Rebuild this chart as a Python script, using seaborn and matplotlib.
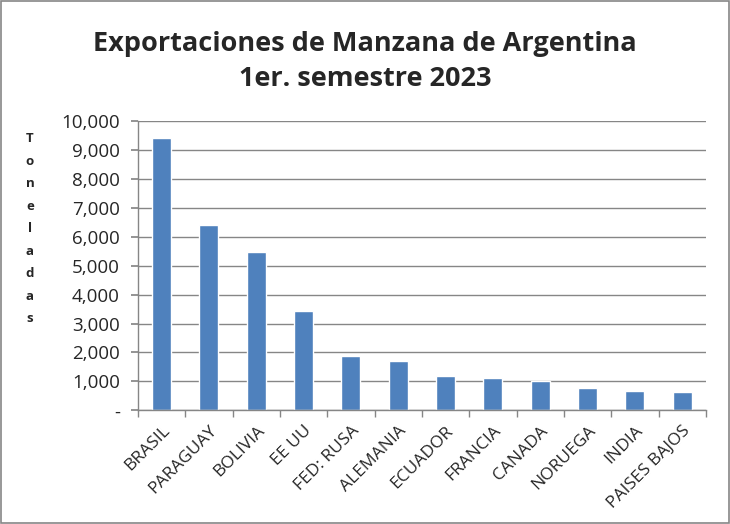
import numpy as np
import pandas as pd
import seaborn as sns
import matplotlib.pyplot as plt
from matplotlib.patches import Rectangle
from matplotlib.ticker import FuncFormatter

paises = ['BRASIL', 'PARAGUAY', 'BOLIVIA', 'EE UU', 'FED: RUSA', 'ALEMANIA',
          'ECUADOR', 'FRANCIA', 'CANADA', 'NORUEGA', 'INDIA', 'PAISES BAJOS']
toneladas = [9420, 6400, 5470, 3420, 1880, 1710, 1200, 1100, 1010, 780, 650, 620]
y_ticks = list(range(0, 10001, 1000))

titulo = 'Exportaciones de Manzana de Argentina\n1er. semestre 2023'
etiqueta_y = 'Toneladas'

df = pd.DataFrame({'pais': paises, 'toneladas': toneladas})

sns.set_theme(style='white')
plt.rcParams['font.family'] = ['Open Sans', 'DejaVu Sans']

fig, ax = plt.subplots(figsize=(7.3, 5.24), dpi=100)
fig.subplots_adjust(left=0.189, right=0.967, top=0.769, bottom=0.217)

sns.barplot(data=df, x='pais', y='toneladas', color='#4F81BD', width=0.4,
            saturation=1, ax=ax)

ax.set_ylim(0, 10000)
ax.set_xlim(-0.5, len(paises) - 0.5)
ax.set_yticks(y_ticks)
ax.yaxis.set_major_formatter(FuncFormatter(lambda v, p: '-' if v == 0 else f'{int(v):,}'))
ax.grid(axis='y', color='#868686', linewidth=1)
ax.set_axisbelow(True)

for s in ['top', 'right']:
    ax.spines[s].set_visible(False)
for s in ['left', 'bottom']:
    ax.spines[s].set_color('#868686')
    ax.spines[s].set_linewidth(1)

ax.tick_params(axis='y', length=5, color='#868686', labelsize=13.5, pad=8, left=True)
ax.set_xticks(np.arange(len(paises)))
ax.set_xticklabels(paises, rotation=45, ha='right', rotation_mode='anchor', fontsize=12.5)
ax.tick_params(axis='x', which='major', length=0, pad=9)
ax.set_xticks(np.arange(len(paises) + 1) - 0.5, minor=True)
ax.tick_params(axis='x', which='minor', length=5, color='#868686', bottom=True)

ax.set_xlabel('')
ax.set_ylabel('')
fig.text(0.041, 0.748, '\n'.join(etiqueta_y), ha='center', va='top',
         fontsize=9.5, fontweight='bold', linespacing=1.95)

fig.suptitle(titulo, x=0.5, y=0.94, fontsize=19.5, fontweight='bold', linespacing=1.45)

fig.patches.append(Rectangle((0.001, 0.001), 0.997, 0.997, transform=fig.transFigure,
                             fill=False, edgecolor='#868686', linewidth=1.2))

fig.savefig('out.png', dpi=100)
